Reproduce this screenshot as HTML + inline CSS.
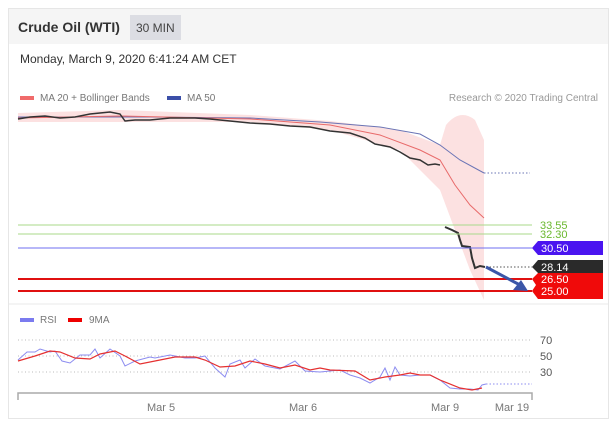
<!DOCTYPE html>
<html><head><style>
body{margin:0;background:#fff;font-family:"Liberation Sans",sans-serif;}
</style></head><body>
<svg width="616" height="440" xmlns="http://www.w3.org/2000/svg" font-family="Liberation Sans, sans-serif">
<rect x="0" y="0" width="616" height="440" fill="#fff"/>
<rect x="8.5" y="8.5" width="600" height="410" fill="#fff" stroke="#e6e6e6"/>
<rect x="9" y="9" width="599" height="35" fill="#f5f5f5"/>
<text x="18" y="32" font-size="14" font-weight="bold" fill="#333">Crude Oil (WTI)</text>
<rect x="130" y="15" width="51" height="25" fill="#dcdde3"/>
<text x="136" y="32" font-size="12" fill="#444">30 MIN</text>
<text x="20" y="63" font-size="12" fill="#333">Monday, March 9, 2020 6:41:24 AM CET</text>
<rect x="20" y="96" width="14" height="4" fill="#f06b6b"/>
<text x="40" y="101" font-size="10" fill="#777">MA 20 + Bollinger Bands</text>
<rect x="167" y="96" width="14" height="4" fill="#3b4fa8"/>
<text x="187" y="101" font-size="10" fill="#777">MA 50</text>
<text x="598" y="101" font-size="10" fill="#999" text-anchor="end">Research © 2020 Trading Central</text>
<!-- bollinger band -->
<path d="M18,113 L120,110 L250,115 L330,121 L400,130 L440,145 L446,125 Q460,108 475,120 L484,140 L484,300 L470,270 L455,230 L440,190 L400,150 L330,130 L250,122 L120,122 L18,122 Z" fill="#fbd9d9" opacity="0.8"/>
<!-- MA50 -->
<polyline points="18,117 150,117 250,118 320,122 380,127 420,134 440,145 460,160 484,173" fill="none" stroke="#6a74b5" stroke-width="1"/>
<polyline points="484,173 530,173" fill="none" stroke="#6a74b5" stroke-dasharray="1.5,2"/>
<!-- MA20 -->
<polyline points="18,118 120,116 250,119 330,125 380,135 420,150 440,160 455,185 470,205 484,218" fill="none" stroke="#e86a6a" stroke-width="1"/>
<!-- price -->
<polyline points="18,119 30,117 45,116 60,118 75,117 90,114 100,113 110,112 120,114 125,121 135,120 150,120 170,118 195,118 210,119 230,121 250,123 270,124 290,126 310,127 330,131 350,133 365,138 375,144 390,147 400,152 410,158 420,160 428,165 435,164 440,165" fill="none" stroke="#333" stroke-width="1.5"/>
<polyline points="445,227 452,230 458,233 460,240 462,246 470,247 472,258 475,268 480,266 485,267" fill="none" stroke="#333" stroke-width="2"/>
<!-- level lines -->
<line x1="18" y1="225" x2="532" y2="225" stroke="#a8d98a"/>
<line x1="18" y1="234" x2="532" y2="234" stroke="#a8d98a"/>
<line x1="18" y1="248" x2="532" y2="248" stroke="#6f6ff0"/>
<line x1="486" y1="267" x2="532" y2="267" stroke="#555" stroke-dasharray="1.5,2"/>
<line x1="18" y1="279" x2="532" y2="279" stroke="#e01010" stroke-width="2"/>
<line x1="18" y1="291" x2="532" y2="291" stroke="#e01010" stroke-width="2"/>
<line x1="486" y1="267" x2="520" y2="285" stroke="#3b56a8" stroke-width="3"/>
<polygon points="528,291 513,290 521,280" fill="#3b56a8"/>
<text x="540" y="229" font-size="11" fill="#6ab82e">33.55</text>
<text x="540" y="238" font-size="11" fill="#6ab82e">32.30</text>
<polygon points="532,248 538,241 603,241 603,255 538,255" fill="#4a14f0"/>
<text x="541" y="252" font-size="11" fill="#fff">30.50</text>
<polygon points="532,267 538,260 603,260 603,273 538,273" fill="#2a2a2a"/>
<text x="541" y="271" font-size="11" fill="#fff">28.14</text>
<polygon points="532,279 538,273 603,273 603,299 538,299 532,291 536,285" fill="#f00a0a"/>
<text x="541" y="283" font-size="11" fill="#fff">26.50</text>
<text x="541" y="295" font-size="11" fill="#fff">25.00</text>
<line x1="9" y1="304" x2="608" y2="304" stroke="#e8e8e8"/>
<!-- RSI panel -->
<rect x="20" y="318" width="14" height="4" fill="#7b7bef"/>
<text x="40" y="323" font-size="10" fill="#777">RSI</text>
<rect x="68" y="318" width="14" height="4" fill="#e00"/>
<text x="89" y="323" font-size="10" fill="#777">9MA</text>
<g stroke="#bbb" stroke-dasharray="1,2.5">
<line x1="18" y1="340" x2="532" y2="340"/><line x1="18" y1="356" x2="532" y2="356"/><line x1="18" y1="372" x2="532" y2="372"/></g>
<text x="540" y="344" font-size="11" fill="#555">70</text>
<text x="540" y="360" font-size="11" fill="#555">50</text>
<text x="540" y="376" font-size="11" fill="#555">30</text>
<polyline points="18,360 27,352 35,352 40,349 50,352 55,351 62,361 70,363 80,355 90,355 95,349 100,358 110,349 120,356 125,366 135,361 150,357 155,358 170,355 185,358 195,358 205,356 215,368 225,377 230,364 240,360 245,368 255,359 265,366 280,369 295,361 305,371 320,372 340,370 350,375 360,378 370,383 380,377 385,368 390,380 395,367 400,375 410,376 420,375 430,375 440,380 450,388 460,389 470,389 478,390 482,385 486,384" fill="none" stroke="#8c8cf0" stroke-width="1"/>
<polyline points="486,384 532,384" fill="none" stroke="#8c8cf0" stroke-dasharray="1.5,2"/>
<polyline points="18,361 35,356 50,351 60,352 75,358 90,359 100,354 115,351 125,356 140,364 160,360 175,357 195,357 205,360 220,367 235,366 250,361 265,364 280,368 295,365 310,370 320,368 330,370 355,371 370,380 385,377 400,375 410,373 420,375 430,375 440,380 460,388 472,390 482,388" fill="none" stroke="#e53030" stroke-width="1.2"/>
<polyline points="18,400 18,393 532,393 532,400" fill="none" stroke="#aaa" stroke-width="1.5"/>
<g font-size="11" fill="#777" text-anchor="middle">
<text x="161" y="411">Mar 5</text><text x="303" y="411">Mar 6</text><text x="445" y="411">Mar 9</text><text x="512" y="411">Mar 19</text></g>
</svg>
</body></html>
